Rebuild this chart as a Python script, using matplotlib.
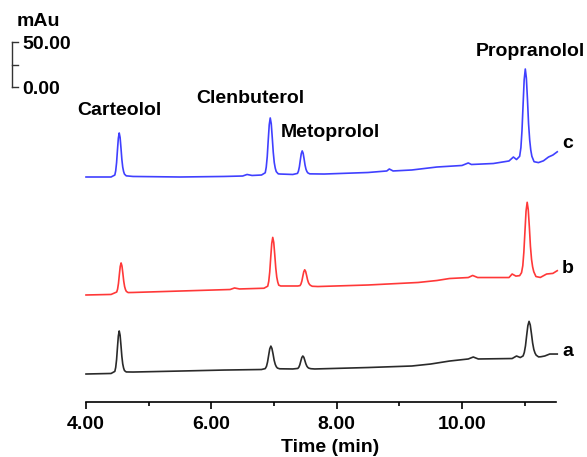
import matplotlib
matplotlib.use("Agg")
import matplotlib.pyplot as plt
import matplotlib.transforms as mtransforms

plt.rcParams['font.family'] = ['Liberation Sans', 'DejaVu Sans']
plt.rcParams['font.weight'] = 'bold'

# ---- data (time in min, signal in mAu relative to each trace's own zero) ----
t_a = [4.00, 4.40,
       4.46, 4.474, 4.488, 4.502, 4.516, 4.53, 4.544, 4.558, 4.572, 4.586, 4.60, 4.614, 4.642,
       4.75, 5.5, 6.2, 6.80,
       6.86, 6.88, 6.897, 6.915, 6.932, 6.95, 6.967, 6.985, 7.002, 7.02, 7.037, 7.055, 7.09,
       7.30,
       7.38, 7.396, 7.412, 7.428, 7.444, 7.46, 7.476, 7.492, 7.508, 7.524, 7.54, 7.556, 7.588,
       7.65, 8.5, 9.2, 9.5, 9.8, 10.1, 10.18, 10.26, 10.8, 10.87, 10.93,
       10.975, 10.994, 11.013, 11.032, 11.051, 11.07, 11.089, 11.108, 11.127, 11.146, 11.165,
       11.184, 11.222,
       11.26, 11.32, 11.40, 11.52]
s_a = [0, 0.6,
       2.9, 7.3, 16, 29.5, 42.2, 47.8, 43.1, 31.9, 19.7, 11.3, 6.6, 3.8, 2.3,
       2.2, 3.3, 4.4, 5,
       6, 8.5, 13.3, 20.9, 27.9, 31, 28.4, 22.2, 15.4, 10.7, 8.1, 6.6, 5.8,
       5.6,
       6.2, 7.5, 10.2, 14.4, 18.3, 20, 18.6, 15.1, 11.4, 8.8, 7.3, 6.5, 5.9,
       5.6, 7.2, 8.9, 11.1, 14.4, 16.7, 18.9, 16.7, 17.2, 20, 18.3,
       20.1, 23.9, 31.3, 42.9, 53.7, 58.5, 54.5, 44.9, 34.5, 27.3, 23.3,
       20.9, 19,
       19.2, 20, 22.2, 22.2]

t_b = [4.00, 4.40,
       4.49, 4.504, 4.518, 4.532, 4.546, 4.56, 4.574, 4.588, 4.602, 4.616, 4.63, 4.644, 4.672,
       4.75, 5.5, 6.3, 6.37, 6.45, 6.84,
       6.90, 6.916, 6.932, 6.948, 6.964, 6.98, 6.996, 7.012, 7.028, 7.044, 7.06, 7.076, 7.108,
       7.20, 7.38,
       7.415, 7.43, 7.445, 7.46, 7.475, 7.49, 7.505, 7.52, 7.535, 7.55, 7.565, 7.58, 7.61,
       7.70, 8.5, 9.3, 9.6, 9.8, 10.1, 10.17, 10.25, 10.75, 10.80, 10.86, 10.92,
       10.95, 10.97, 10.987, 11.005, 11.022, 11.04, 11.057, 11.075, 11.092, 11.11, 11.127,
       11.145, 11.18,
       11.25, 11.35, 11.45, 11.52]
s_b = [0, 0.6,
       3.3, 6.5, 12.8, 22.5, 31.6, 35.6, 32.2, 24.2, 15.4, 9.4, 6, 4, 2.7,
       2.8, 4.4, 6.1, 7.8, 6.7, 7.5,
       9.8, 15.1, 25.6, 42, 57.2, 64, 58.4, 44.8, 30.1, 19.9, 14.3, 10.9, 10,
       10, 10,
       10.4, 12.2, 15.6, 20.9, 25.8, 28, 26.2, 21.8, 17, 13.7, 11.9, 10.8, 9.7,
       9.4, 11.1, 13.9, 16.1, 18.3, 19.4, 21.7, 19.4, 19.4, 23.3, 21, 21.5,
       24.8, 32.5, 47.6, 71.2, 93.2, 103, 94.9, 75.3, 54.1, 39.4, 31.3,
       25.9, 20.5,
       19.5, 23.3, 24, 27]

t_c = [4.00, 4.40,
       4.46, 4.474, 4.488, 4.502, 4.516, 4.53, 4.544, 4.558, 4.572, 4.586, 4.60, 4.614, 4.642,
       4.75, 5.5, 6.2, 6.5, 6.57, 6.65, 6.80,
       6.86, 6.876, 6.892, 6.908, 6.924, 6.94, 6.956, 6.972, 6.988, 7.004, 7.02, 7.036, 7.068,
       7.10, 7.30,
       7.375, 7.39, 7.405, 7.42, 7.435, 7.45, 7.465, 7.48, 7.495, 7.51, 7.525, 7.54, 7.57,
       7.80, 8.5, 8.8, 8.84, 8.9, 9.2, 9.6, 10.0, 10.1, 10.15, 10.5, 10.75, 10.82, 10.87,
       10.92, 10.94, 10.957, 10.975, 10.992, 11.01, 11.027, 11.045, 11.062, 11.08, 11.097,
       11.115, 11.15,
       11.22, 11.30, 11.38, 11.45, 11.52]
s_c = [0, 0,
       2.2, 6.9, 15.9, 30, 43, 48.9, 44, 32.4, 19.7, 11, 6.1, 3.2, 1.3,
       0.6, 0, 0.6, 1.1, 2.8, 1.7, 2.2,
       4.7, 10.8, 22.5, 40.9, 58, 65.6, 59.3, 44, 27.6, 16.1, 9.8, 6, 3.5,
       3.3, 2.8,
       4, 6.5, 11.3, 18.9, 25.9, 29, 26.4, 20.2, 13.4, 8.7, 6.1, 4.6, 3.5,
       3.3, 5.0, 6.7, 8.9, 6.7, 7.8, 11.1, 12.8, 15.6, 13.9, 15.0, 17.8, 22.2, 19.4,
       23, 32.6, 51.3, 80.6, 107.9, 120, 110, 85.7, 59.4, 41.2, 30.1,
       23, 17,
       16, 18, 22.2, 24.4, 28]

trace_names = ['a', 'b', 'c']
trace_offsets = [31.1, 118.9, 250.0]
trace_colors = ['#2a2a2a', '#ff3838', '#4040ff']

peak_names = ['Carteolol', 'Clenbuterol', 'Metoprolol', 'Propranolol']
x_ticks = [4, 6, 8, 10]
x_tick_labels = ['4.00', '6.00', '8.00', '10.00']
scale_labels = ['0.00', '50.00']
scale_values = [0, 50]

# ---- figure ----
W, H = 587, 457
fig = plt.figure(figsize=(W / 100, H / 100), dpi=100)
ax = fig.add_axes([86 / W, 55 / H, 470 / W, 372 / H])
ax.set_xlim(4, 11.5)
ax.set_ylim(0, 372 / 0.9)

FS = 14
for t, s, off, col in zip([t_a, t_b, t_c], [s_a, s_b, s_c], trace_offsets, trace_colors):
    ax.plot(t, [v + off for v in s], color=col, lw=1.2, solid_joinstyle='round', clip_on=False)

# trace labels
for name, off, yrel in zip(trace_names, trace_offsets, [24.5, 28.9, 36.7]):
    ax.text(11.69, off + yrel, name, ha='center', va='center', fontsize=FS, fontweight='bold')

# peak labels
ax.text(4.54, 323.5, peak_names[0], ha='center', va='center', fontsize=FS, fontweight='bold')
ax.text(6.62, 337.0, peak_names[1], ha='center', va='center', fontsize=FS, fontweight='bold')
ax.text(7.11, 299.5, peak_names[2], ha='left', va='center', fontsize=FS, fontweight='bold')
ax.text(10.22, 389.5, peak_names[3], ha='left', va='center', fontsize=FS, fontweight='bold', clip_on=False)

# axes styling
for sp in ['left', 'right', 'top']:
    ax.spines[sp].set_visible(False)
ax.spines['bottom'].set_linewidth(1.2)
ax.set_yticks([])
ax.set_xticks(x_ticks)
ax.set_xticklabels(x_tick_labels, fontsize=FS, fontweight='bold')
ax.set_xticks([5, 7, 9, 11], minor=True)
ax.tick_params(axis='x', which='major', direction='out', length=5, width=1.2, pad=5)
ax.tick_params(axis='x', which='minor', direction='out', length=3, width=1.2)
ax.set_xlabel('Time (min)', fontsize=FS, fontweight='bold')
ax.xaxis.label.set_va('center')
ax.xaxis.set_label_coords((330 - 86) / 470, -46 / 372)

# scale bar (mAu)
tr = mtransforms.blended_transform_factory(ax.transAxes, ax.transData)
xb = (12 - 86) / 470
tick_len = 6 / 470
ax.plot([xb, xb], [350 + scale_values[0], 350 + scale_values[1]], color='#333333', lw=1.0,
        transform=tr, clip_on=False)
for v in [scale_values[0], (scale_values[0] + scale_values[1]) / 2, scale_values[1]]:
    ax.plot([xb, xb + tick_len], [350 + v, 350 + v], color='#333333', lw=1.0,
            transform=tr, clip_on=False)
for v, lab in zip(scale_values, scale_labels):
    ax.text((22 - 86) / 470, 350 + v - 3, lab, ha='left', va='center', fontsize=FS,
            fontweight='bold', transform=tr, clip_on=False)
ax.text((17 - 86) / 470, 423, 'mAu', ha='left', va='center', fontsize=FS, fontweight='bold',
        transform=tr, clip_on=False)

fig.savefig('out.png', dpi=100)
